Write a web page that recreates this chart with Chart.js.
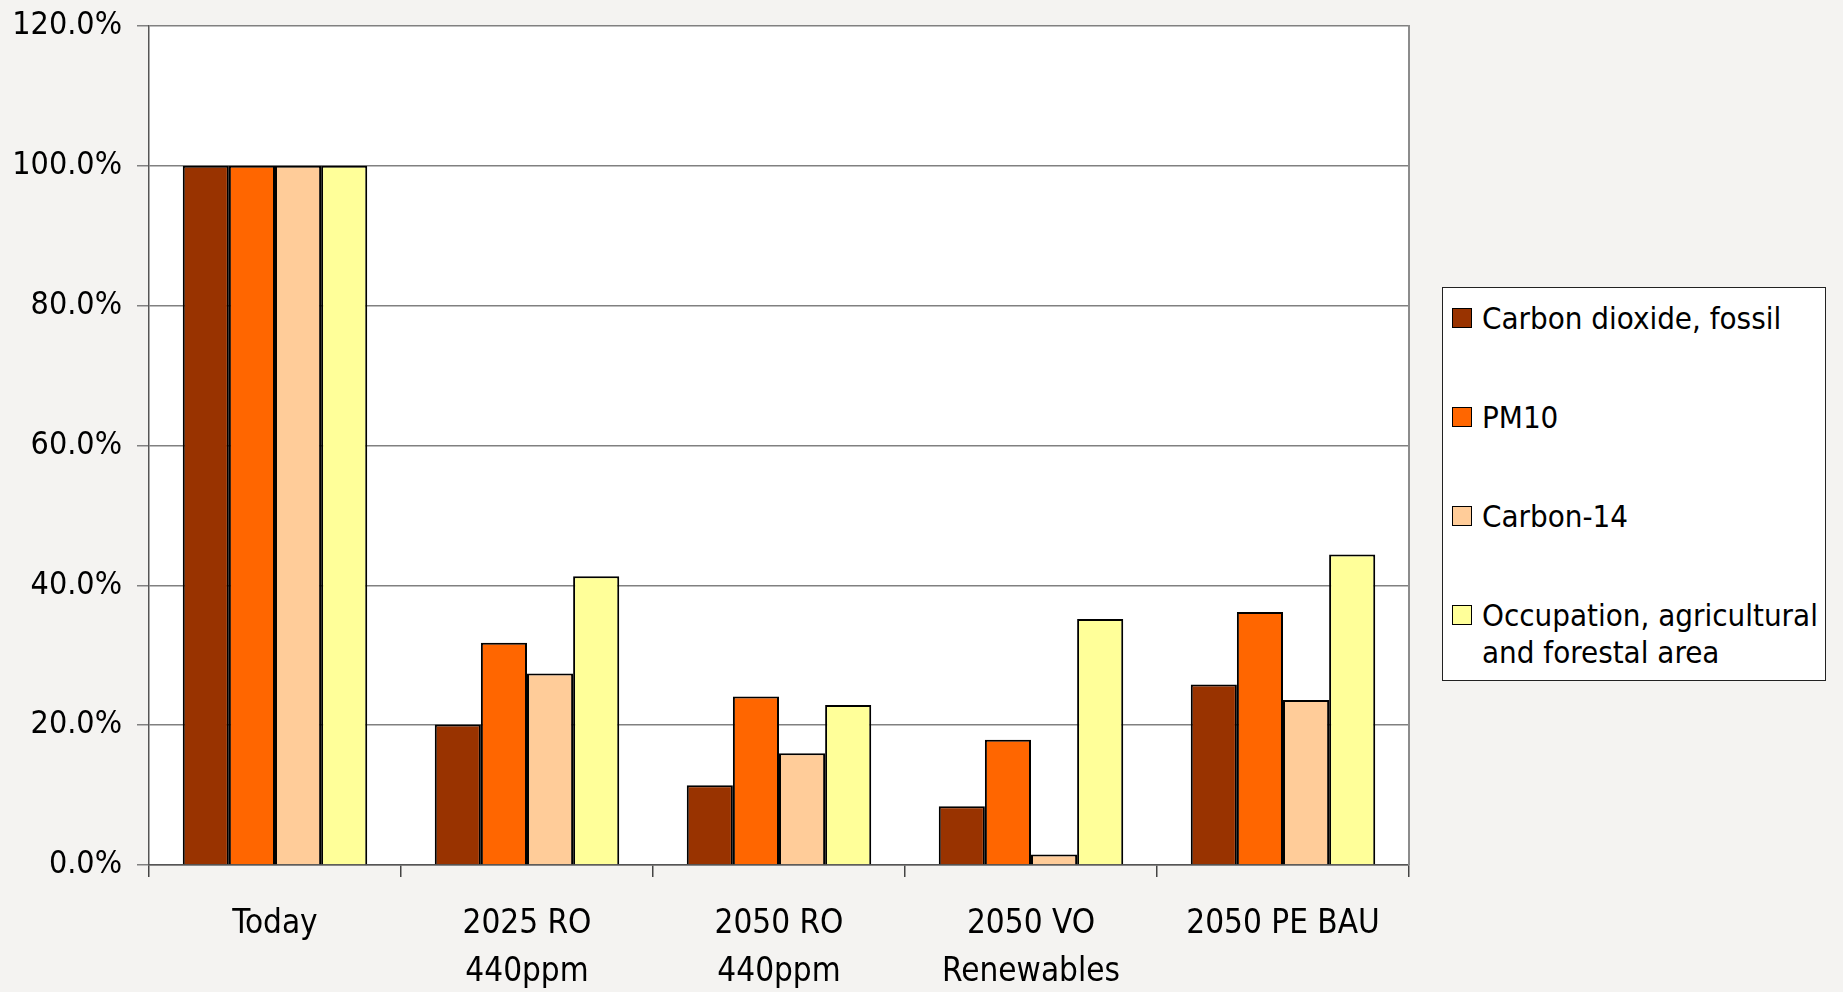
<!DOCTYPE html>
<html>
<head>
<meta charset="utf-8">
<script src="https://cdn.jsdelivr.net/npm/chart.js@4/dist/chart.umd.min.js"></script>
<style>
  html, body { margin: 0; padding: 0; background: #f4f3f1; }
  #wrap { position: relative; width: 1843px; height: 992px; }
  canvas { display: block; }
  #legend {
    position: absolute; left: 1442px; top: 287px; width: 382px; height: 392px;
    background: #fff; border: 1.5px solid #222;
    font-family: 'DejaVu Sans Condensed', 'DejaVu Sans', sans-serif;
    font-size: 31px; line-height: 37px; color: #000;
  }
  .item { position: absolute; left: 9px; }
  .sw { position: absolute; left: 0; top: 8px; width: 18px; height: 18px; border: 1.5px solid #000; }
  .txt { position: absolute; left: 30px; top: 0; white-space: pre; }
</style>
</head>
<body>
<div id="wrap">
  <canvas id="chart" width="1843" height="992"></canvas>
  <div id="legend"></div>
</div>
<script>
// Scenario categories (multi-line axis labels)
const categories = [
  ['Today'],
  ['2025 RO', '440ppm'],
  ['2050 RO', '440ppm'],
  ['2050 VO', 'Renewables'],
  ['2050 PE BAU']
];

// Impact relative to today, in percent
const co2Fossil   = [100, 20.1, 11.4, 8.4, 25.8];
const pm10        = [100, 31.8, 24.1, 17.9, 36.2];
const carbon14    = [100, 27.4, 16.0, 1.5, 23.6];
const landOccup   = [100, 41.3, 22.9, 35.2, 44.4];

const seriesNames = [
  'Carbon dioxide, fossil',
  'PM10',
  'Carbon-14',
  'Occupation, agricultural\nand forestal area'
];
const seriesColors = ['#993300', '#ff6600', '#ffcc99', '#ffff99'];

const yTickLabels = ['0.0%', '20.0%', '40.0%', '60.0%', '80.0%', '100.0%', '120.0%'];

const FONT = "'DejaVu Sans Condensed', 'DejaVu Sans', sans-serif";

// White plot area with a grey frame on the right
const plotFrame = {
  id: 'plotFrame',
  beforeDraw(chart) {
    const { ctx, chartArea: a } = chart;
    ctx.save();
    ctx.fillStyle = '#ffffff';
    ctx.fillRect(a.left, a.top, a.right - a.left, a.bottom - a.top);
    ctx.restore();
  },
  afterDraw(chart) {
    const { ctx, chartArea: a } = chart;
    ctx.save();
    ctx.strokeStyle = '#8c8c8c';
    ctx.lineWidth = 2;
    ctx.beginPath();
    ctx.moveTo(a.right, a.top - 1);
    ctx.lineTo(a.right, a.bottom);
    ctx.stroke();
    ctx.restore();
  }
};

const values = [co2Fossil, pm10, carbon14, landOccup];
const datasets = values.map((v, i) => ({
  label: seriesNames[i],
  data: v,
  backgroundColor: seriesColors[i],
  borderColor: '#000000',
  borderWidth: 2,
  categoryPercentage: 0.732,
  barPercentage: 1.0
}));

const chart = new Chart(document.getElementById('chart'), {
  type: 'bar',
  data: { labels: categories, datasets },
  options: {
    responsive: false,
    animation: false,
    devicePixelRatio: 1,
    layout: { autoPadding: false, padding: { left: 0, top: 26, right: 434, bottom: 0 } },
    plugins: {
      legend: { display: false },
      tooltip: { enabled: false }
    },
    scales: {
      x: {
        grid: {
          drawOnChartArea: false,
          offset: true,
          tickLength: 12,
          tickColor: '#444444',
          lineWidth: 1.5
        },
        border: { color: '#555555', width: 1.5 },
        ticks: {
          color: '#000',
          font: { family: FONT, size: 33, lineHeight: 1.4545 },
          padding: 23,
          maxRotation: 0,
          autoSkip: false
        },
        afterFit(scale) {
          scale.height = 127;
          scale.paddingLeft = 0;
          scale.paddingRight = 0;
        }
      },
      y: {
        min: 0,
        max: 120,
        ticks: {
          stepSize: 20,
          color: '#000',
          font: { family: FONT, size: 32 },
          padding: 15,
          callback: (v, i) => yTickLabels[i]
        },
        grid: { color: '#808080', lineWidth: 1.5, tickLength: 12, tickColor: '#808080' },
        border: { color: '#555555', width: 1.5 },
        afterFit(scale) {
          scale.width = 149;
          scale.paddingTop = 0;
          scale.paddingBottom = 0;
        }
      }
    }
  },
  plugins: [plotFrame]
});

// Legend box built from the chart's own legend items
const legendEl = document.getElementById('legend');
const items = Chart.defaults.plugins.legend.labels.generateLabels(chart);
const itemTops = [12, 111, 210, 309];
items.forEach((it, i) => {
  const row = document.createElement('div');
  row.className = 'item';
  row.style.top = itemTops[i] + 'px';
  const sw = document.createElement('div');
  sw.className = 'sw';
  sw.style.background = it.fillStyle;
  const tx = document.createElement('div');
  tx.className = 'txt';
  tx.textContent = it.text;
  row.appendChild(sw);
  row.appendChild(tx);
  legendEl.appendChild(row);
});
</script>
</body>
</html>
